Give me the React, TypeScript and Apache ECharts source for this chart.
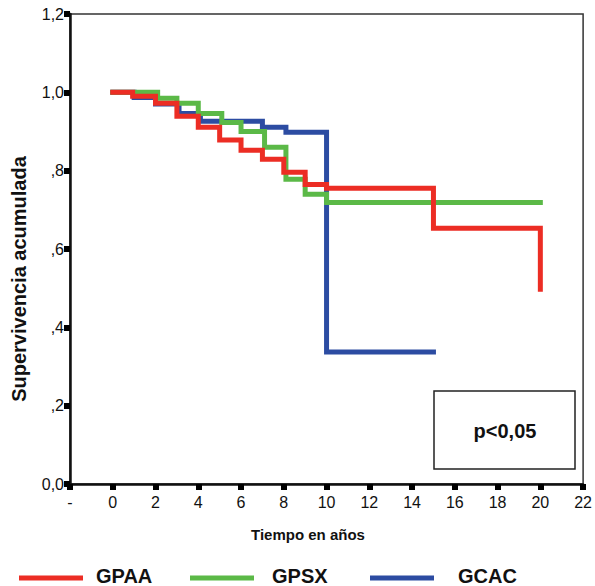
import React, { useEffect, useRef } from "react";
import * as echarts from "echarts";

const seriesNames = ["GPAA", "GPSX", "GCAC"];
const seriesColors = ["#ec2d24", "#5bb947", "#2c4ca2"];

const gpaaT = [0, 0.93, 2, 3, 4, 5, 6, 7, 8, 9, 10, 15, 20];
const gpaaS = [1.0, 0.99, 0.972, 0.939, 0.911, 0.878, 0.852, 0.829, 0.796, 0.765, 0.755, 0.653, 0.497];

const gpsxT = [0, 2.1, 3, 4, 5.1, 6, 7.1, 8.1, 9, 10, 20];
const gpsxS = [1.0, 0.985, 0.972, 0.946, 0.923, 0.9, 0.86, 0.778, 0.74, 0.719, 0.719];

const gcacT = [0, 1, 2, 3.1, 4.1, 7, 8.1, 10, 15];
const gcacS = [1.0, 0.987, 0.97, 0.946, 0.926, 0.911, 0.898, 0.337, 0.337];

const yTickLabels: Record<string, string> = {
  "0": "0,0",
  "0.2": ",2",
  "0.4": ",4",
  "0.6": ",6",
  "0.8": ",8",
  "1": "1,0",
  "1.2": "1,2",
};

const FONT = "'Liberation Sans', Arial, Helvetica, sans-serif";

function pairs(t: number[], s: number[]) {
  return t.map((v, i) => [v, s[i]]);
}

export default function App() {
  const ref = useRef<HTMLDivElement>(null);
  useEffect(() => {
    if (!ref.current) return;
    const chart = echarts.init(ref.current, null, { renderer: "svg" });
    const dataSets = [pairs(gpaaT, gpaaS), pairs(gpsxT, gpsxS), pairs(gcacT, gcacS)];
    // draw order: blue (bottom), green, red (top)
    const order = [2, 1, 0];
    const legendX = [19, 190, 370];
    const legendTextX = [96, 272, 458];
    const legendY = 578;
    const graphic: any[] = [];
    seriesNames.forEach((n, i) => {
      graphic.push({
        type: "line",
        shape: { x1: legendX[i], y1: legendY, x2: legendX[i] + 64, y2: legendY },
        style: { stroke: seriesColors[i], lineWidth: 5 },
      });
      graphic.push({
        type: "text",
        x: legendTextX[i],
        y: legendY - 2,
        style: {
          text: n,
          font: `bold 20px ${FONT}`,
          fill: "#111",
          textAlign: "left",
          textVerticalAlign: "middle",
        },
      });
    });
    graphic.push({
      type: "rect",
      shape: { x: 434, y: 391, width: 141, height: 78 },
      style: { fill: "#fff", stroke: "#222", lineWidth: 1.5 },
      z: 10,
    });
    graphic.push({
      type: "text",
      x: 505,
      y: 431,
      z: 11,
      style: {
        text: "p<0,05",
        font: `bold 20px ${FONT}`,
        fill: "#111",
        textAlign: "center",
        textVerticalAlign: "middle",
      },
    });
    graphic.push({
      type: "text",
      x: 19,
      y: 279,
      rotation: Math.PI / 2,
      style: {
        text: "Supervivencia acumulada",
        font: `bold 20px ${FONT}`,
        fill: "#111",
        textAlign: "center",
        textVerticalAlign: "middle",
      },
    });
    graphic.push({
      type: "text",
      x: 308,
      y: 534,
      style: {
        text: "Tiempo en años",
        font: `bold 15px ${FONT}`,
        fill: "#111",
        textAlign: "center",
        textVerticalAlign: "middle",
      },
    });

    chart.setOption({
      animation: false,
      backgroundColor: "#fff",
      grid: {
        left: 70,
        right: 8,
        top: 14,
        bottom: 102,
        show: true,
        borderColor: "#333",
        borderWidth: 1.5,
      },
      xAxis: {
        type: "value",
        min: -2,
        max: 22,
        interval: 2,
        axisLine: { show: true, onZero: false, lineStyle: { color: "#111", width: 2.5 } },
        axisTick: { show: true, length: 6, lineStyle: { color: "#000", width: 6, cap: "butt" } },
        axisLabel: {
          margin: 10,
          fontSize: 16,
          fontFamily: FONT,
          color: "#111",
          formatter: (v: number) => (v === -2 ? "-" : String(v)),
        },
        splitLine: { show: false },
      },
      yAxis: {
        type: "value",
        min: 0,
        max: 1.2,
        interval: 0.2,
        axisLine: { show: true, onZero: false, lineStyle: { color: "#111", width: 2.5 } },
        axisTick: { show: true, length: 6, lineStyle: { color: "#000", width: 6, cap: "butt" } },
        axisLabel: {
          margin: 6,
          fontSize: 16,
          fontFamily: FONT,
          color: "#111",
          formatter: (v: number) => yTickLabels[String(Math.round(v * 10) / 10)] ?? String(v),
        },
        splitLine: { show: false },
      },
      series: order.map((i) => ({
        name: seriesNames[i],
        type: "line",
        step: "end",
        data: dataSets[i],
        showSymbol: false,
        symbol: "none",
        lineStyle: { color: seriesColors[i], width: 5, join: "miter", cap: "square" },
        itemStyle: { color: seriesColors[i] },
        z: 3 + (2 - i),
      })),
      graphic,
    });
    return () => chart.dispose();
  }, []);
  return <div ref={ref} style={{ width: 595, height: 586, position: "absolute", left: 0, top: 0 }} />;
}
